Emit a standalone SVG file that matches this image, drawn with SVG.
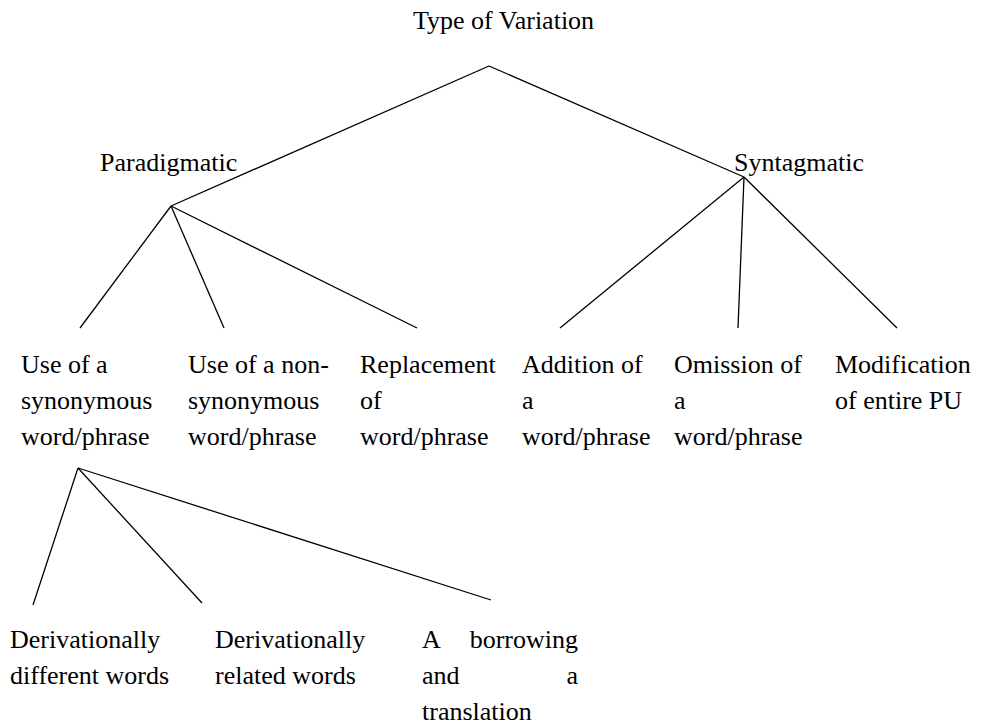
<svg xmlns="http://www.w3.org/2000/svg" width="983" height="726" viewBox="0 0 983 726">
<style>
.c line { stroke: #000; stroke-width: 1.3; }
.e { text-anchor: end; }
</style>
<rect width="983" height="726" fill="#fff"/>
<g id="connectors" class="c">
<line x1="489" y1="66" x2="171" y2="206"/>
<line x1="489" y1="66" x2="744" y2="177"/>
<line x1="171" y1="206" x2="80" y2="328"/>
<line x1="171" y1="206" x2="224" y2="328"/>
<line x1="171" y1="206" x2="417" y2="328"/>
<line x1="744" y1="177" x2="560" y2="328"/>
<line x1="744" y1="177" x2="738" y2="328"/>
<line x1="744" y1="177" x2="897" y2="328"/>
<line x1="78" y1="468" x2="33" y2="605"/>
<line x1="78" y1="468" x2="202" y2="603"/>
<line x1="78" y1="468" x2="491" y2="600"/>
</g>
<g font-family="'Liberation Serif', 'Times New Roman', serif" font-size="26" fill="#000">
<g id="root"><text x="413" y="29">Type of Variation</text></g>
<g id="paradigmatic"><text x="100" y="171">Paradigmatic</text></g>
<g id="syntagmatic"><text x="734" y="171">Syntagmatic</text></g>
<g id="synonymous"><text x="21" y="373">Use of a</text><text x="21" y="409">synonymous</text><text x="21" y="445">word/phrase</text></g>
<g id="nonsynonymous"><text x="188" y="373">Use of a non-</text><text x="188" y="409">synonymous</text><text x="188" y="445">word/phrase</text></g>
<g id="replacement"><text x="360" y="373">Replacement</text><text x="360" y="409">of</text><text x="360" y="445">word/phrase</text></g>
<g id="addition"><text x="522" y="373">Addition of</text><text x="522" y="409">a</text><text x="522" y="445">word/phrase</text></g>
<g id="omission"><text x="674" y="373">Omission of</text><text x="674" y="409">a</text><text x="674" y="445">word/phrase</text></g>
<g id="modification"><text x="835" y="373">Modification</text><text x="835" y="409">of entire PU</text></g>
<g id="different"><text x="10" y="648">Derivationally</text><text x="10" y="684">different words</text></g>
<g id="related"><text x="215" y="648">Derivationally</text><text x="215" y="684">related words</text></g>
<g id="borrowing"><text x="422" y="648">A</text><text class="e" x="578" y="648">borrowing</text><text x="422" y="684">and</text><text class="e" x="578" y="684">a</text><text x="422" y="720">translation</text></g>
</g>
</svg>
